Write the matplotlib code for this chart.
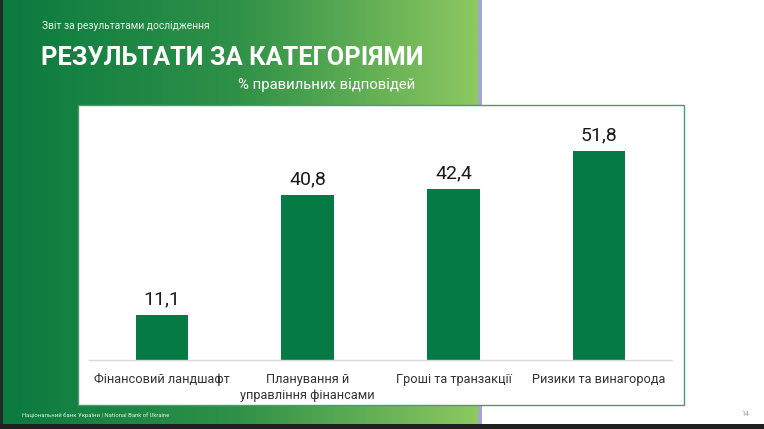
import numpy as np
import matplotlib
matplotlib.use('Agg')
import matplotlib.pyplot as plt
from matplotlib.patches import Rectangle
from matplotlib.colors import LinearSegmentedColormap

plt.rcParams['font.family'] = ['Roboto', 'DejaVu Sans']

# дані
categories = ['Фінансовий ландшафт', 'Планування й\nуправління фінансами',
              'Гроші та транзакції', 'Ризики та винагорода']
values = [11.1, 40.8, 42.4, 51.8]
labels = ['11,1', '40,8', '42,4', '51,8']

W, H = 764, 429
fig = plt.figure(figsize=(W / 100, H / 100), dpi=100)
fig.patch.set_facecolor('white')

def fx(px):
    return px / W

def fy(py):
    # піксель зверху -> частка фігури знизу
    return 1 - py / H

# фон: градієнт зліва
bg = fig.add_axes([0, 0, 1, 1])
bg.set_xlim(0, W)
bg.set_ylim(H, 0)
bg.axis('off')
cmap = LinearSegmentedColormap.from_list('g', ['#0a7a3f', '#2f9148', '#8dc860'])
grad = np.linspace(0, 1, 256).reshape(1, -1)
bg.imshow(grad, cmap=cmap, extent=[0, 478, H, 0], aspect='auto')
bg.add_patch(Rectangle((478, 0), 4, H, color='#9ea6d8', lw=0))
bg.add_patch(Rectangle((0, 0), 3, H, color='#1e2a22', lw=0))
bg.add_patch(Rectangle((0, 424), W, 5, color='#1f1f1f', lw=0))
# біла рамка діаграми
bg.add_patch(Rectangle((78, 105), 606, 300, facecolor='white', edgecolor='#4e9a70', lw=1))

bg.text(42, 26, 'Звіт за результатами дослідження', color='#e6f2e6',
        fontsize=7.4, va='center', ha='left')
bg.text(41, 58, 'РЕЗУЛЬТАТИ ЗА КАТЕГОРІЯМИ', color='white',
        fontsize=18.3, fontweight='bold', va='center', ha='left')
bg.text(415, 85, '% правильних відповідей', color='white',
        fontsize=10.7, va='center', ha='right')
bg.text(22, 415, 'Національний банк України | National Bank of Ukraine',
        color='#e6f2e6', fontsize=4.2, va='center', ha='left')
bg.text(745, 415, '14', color='#999999', fontsize=5, va='center', ha='center')

# діаграма
ax = fig.add_axes([fx(89), fy(360), fx(672 - 89), (360 - 117.6) / H])
ax.set_facecolor('none')
x = np.arange(len(categories))
ax.bar(x, values, width=0.36, color='#067a45')
for xi, v, t in zip(x, values, labels):
    ax.text(xi, v + 1.6, t, ha='center', va='bottom', fontsize=14, color='#1a1a1a')
ax.set_xlim(-0.5, 3.5)
ax.set_ylim(0, 60)
ax.set_xticks(x)
ax.set_xticklabels(categories, fontsize=9.2, color='#333333', linespacing=1.3)
ax.tick_params(axis='x', length=0, pad=9)
ax.set_yticks([])
for s in ['top', 'left', 'right']:
    ax.spines[s].set_visible(False)
ax.spines['bottom'].set_color('#d9d9d9')
ax.spines['bottom'].set_linewidth(1)

fig.savefig('out.png', dpi=100)
